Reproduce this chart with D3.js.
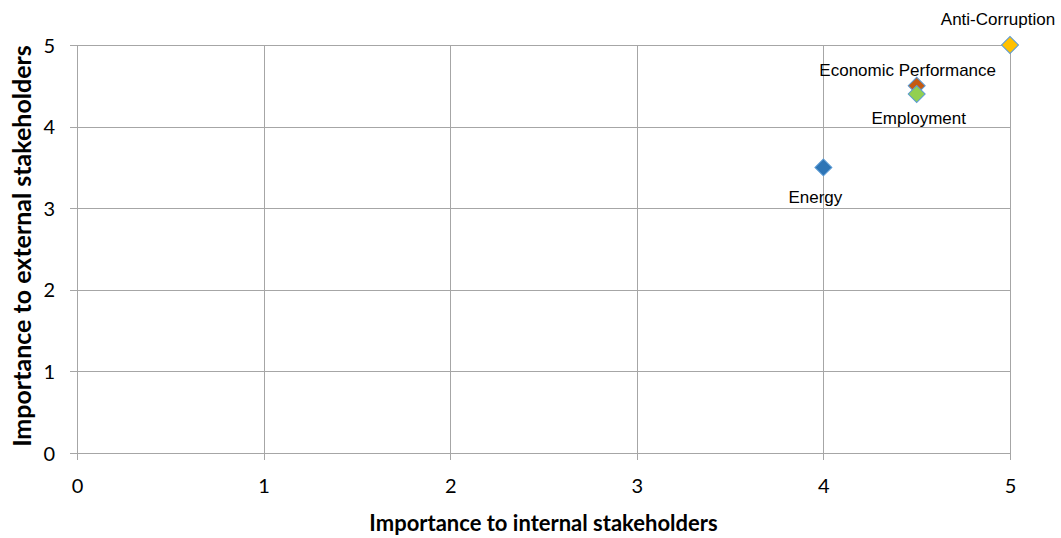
<!DOCTYPE html>
<html>
<head>
<meta charset="utf-8">
<script src="https://cdn.jsdelivr.net/npm/d3@7"></script>
<style>
  html, body { margin: 0; padding: 0; background: #ffffff; }
  svg { display: block; }
</style>
</head>
<body>
<svg id="chart" width="1061" height="538"></svg>
<script>
// Materiality topics and their scores
const topics = ["Energy", "Economic Performance", "Employment", "Anti-Corruption"];
const internalScores = [4, 4.5, 4.5, 5];
const externalScores = [3.5, 4.5, 4.4, 5];
const topicColors = ["#2e75b6", "#c55a11", "#92d050", "#ffc000"];
const xTickValues = [0, 1, 2, 3, 4, 5];
const yTickValues = [0, 1, 2, 3, 4, 5];
const xTitle = "Importance to internal stakeholders";
const yTitle = "Importance to external stakeholders";

// Data label placement relative to each marker (dx, dy in px)
const labelOffsets = [[-8, 36], [-9, -10], [2, 30], [-12, -20]];

const width = 1061, height = 538;
const plot = { left: 77, right: 1010, top: 45, bottom: 453 };
const gridColor = "#a6a6a6";
const tickFont = "Lato, 'Open Sans', sans-serif";
const labelFont = "'Liberation Sans', Arial, sans-serif";

const svg = d3.select("#chart");

const x = d3.scaleLinear().domain([0, 5]).range([plot.left, plot.right]);
const y = d3.scaleLinear().domain([0, 5]).range([plot.bottom, plot.top]);

// Gridlines, with short outside tick stubs
const grid = svg.append("g").attr("shape-rendering", "crispEdges");
grid.selectAll("line.h").data(yTickValues).join("line")
  .attr("class", "h")
  .attr("x1", plot.left - 7).attr("x2", plot.right)
  .attr("y1", d => Math.round(y(d)) + 0.5).attr("y2", d => Math.round(y(d)) + 0.5)
  .attr("stroke", gridColor).attr("stroke-width", 1);
grid.selectAll("line.v").data(xTickValues).join("line")
  .attr("class", "v")
  .attr("x1", d => Math.round(x(d)) + 0.5).attr("x2", d => Math.round(x(d)) + 0.5)
  .attr("y1", plot.top).attr("y2", plot.bottom + 7)
  .attr("stroke", gridColor).attr("stroke-width", 1);

// Axes (labels only; lines come from the grid)
const xAxis = d3.axisBottom(x).tickValues(xTickValues).tickSize(0).tickPadding(0).tickFormat(d3.format("d"));
const yAxis = d3.axisLeft(y).tickValues(yTickValues).tickSize(0).tickPadding(0).tickFormat(d3.format("d"));

const gx = svg.append("g").attr("transform", `translate(0,${plot.bottom})`).call(xAxis);
gx.select(".domain").remove();
gx.selectAll("text")
  .attr("y", 40).attr("dy", null)
  .attr("font-family", tickFont).attr("font-size", 20).attr("fill", "#000");

const gy = svg.append("g").attr("transform", `translate(${plot.left},0)`).call(yAxis);
gy.select(".domain").remove();
gy.selectAll("text")
  .attr("x", -22).attr("dy", "0.35em")
  .attr("font-family", tickFont).attr("font-size", 20).attr("fill", "#000");

// Axis titles
svg.append("text")
  .attr("x", (plot.left + plot.right) / 2).attr("y", 531)
  .attr("text-anchor", "middle")
  .attr("font-family", tickFont).attr("font-weight", "bold").attr("font-size", 22)
  .attr("fill", "#000")
  .text(xTitle);

svg.append("text")
  .attr("transform", `translate(31,246) rotate(-90)`)
  .attr("text-anchor", "middle")
  .attr("font-family", tickFont).attr("font-weight", "bold").attr("font-size", 25)
  .attr("fill", "#000")
  .text(yTitle);

// Points
const points = topics.map((t, i) => ({
  name: t, ix: internalScores[i], ex: externalScores[i],
  color: topicColors[i], off: labelOffsets[i]
}));

const diamond = d3.symbol().type(d3.symbolSquare).size(144);
svg.append("g").selectAll("path").data(points).join("path")
  .attr("d", diamond)
  .attr("transform", d => `translate(${x(d.ix)},${y(d.ex)}) rotate(45)`)
  .attr("fill", d => d.color)
  .attr("stroke", "#5b9bd5").attr("stroke-width", 1);

// Data labels
svg.append("g").selectAll("text").data(points).join("text")
  .attr("x", d => x(d.ix) + d.off[0])
  .attr("y", d => y(d.ex) + d.off[1])
  .attr("text-anchor", "middle")
  .attr("font-family", labelFont).attr("font-size", 17)
  .attr("fill", "#000")
  .text(d => d.name);
</script>
</body>
</html>
